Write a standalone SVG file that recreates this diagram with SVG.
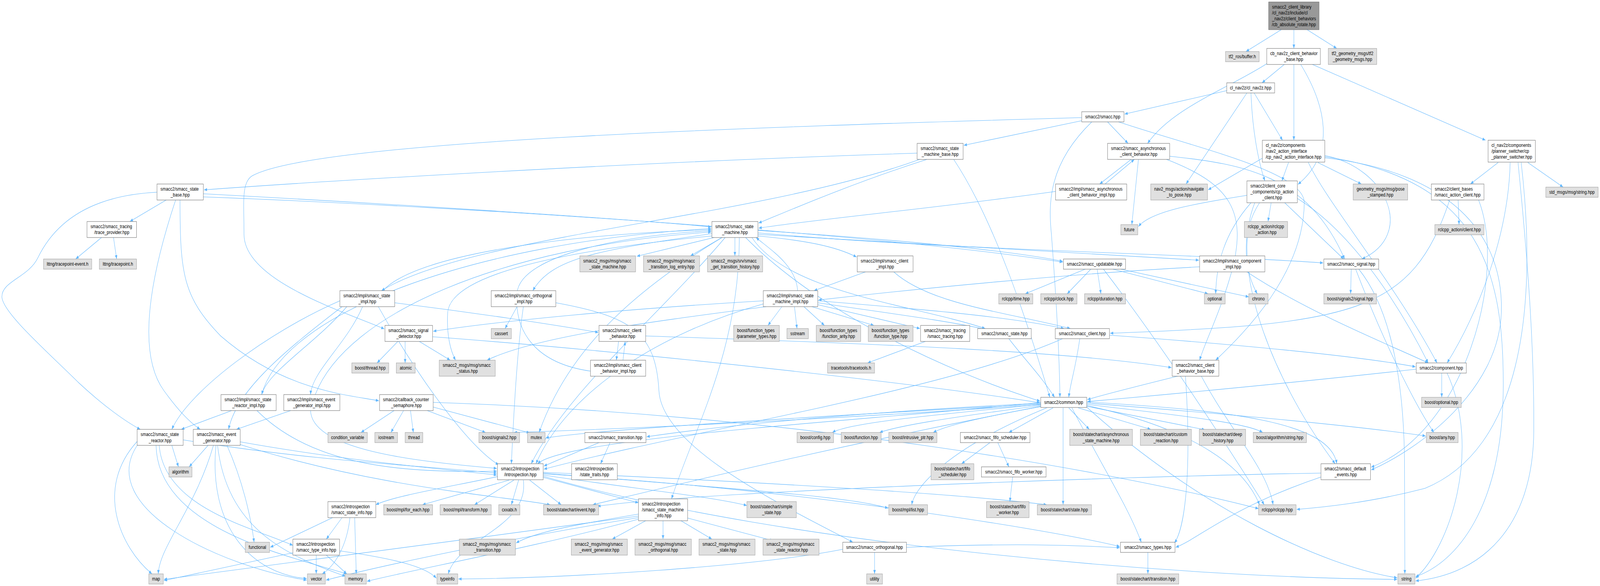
<svg xmlns="http://www.w3.org/2000/svg" width="5075" height="1500" viewBox="0 0 5075 1500" preserveAspectRatio="none" style="width:100%;height:100%">
<defs>
<style>
.nw{fill:#ffffff;stroke:#666666;stroke-width:1}
.ng{fill:#e0e0e0;stroke:#999999;stroke-width:1}
.nt{fill:#999999;stroke:#666666;stroke-width:1}
text{font-family:"Liberation Sans",Arial,Helvetica,sans-serif;font-size:13px;fill:#000000}
.c{text-anchor:middle}
#edges path{fill:none;stroke:#63b8ff;stroke-width:1.1;marker-end:url(#ah)}
</style>
<marker id="ah" markerWidth="10" markerHeight="8" refX="10" refY="4" orient="auto" markerUnits="userSpaceOnUse"><path d="M0,0 L10,4 L0,8 z" fill="#63b8ff"/></marker>
</defs>
<rect x="0" y="0" width="5075" height="1500" fill="#ffffff"/>
<g id="edges">
<path d="M4064,76 L3952,132"/>
<path d="M4104,76 L4104,124"/>
<path d="M4146,76 L4240,124"/>
<path d="M4075,164 L4003,212"/>
<path d="M4104,164 L4104,359"/>
<path d="M4125,164 C4205,270 4240,390 4117,472"/>
<path d="M4160,164 L4712,359"/>
<path d="M4020,162 C3900,225 3720,275 3640,367"/>
<path d="M3891,232 L3567,292"/>
<path d="M3978,238 L4068,359"/>
<path d="M3968,238 C3972,330 3990,410 4012,463"/>
<path d="M3955,238 L3762,471"/>
<path d="M3431,309 L3057,372"/>
<path d="M3513,312 L3578,367"/>
<path d="M3431,301 C2400,325 1000,360 800,450 C765,467 774,520 774,600 C774,720 1100,800 1219,842"/>
<path d="M3463,312 C3325,420 3325,520 3335,600 C3350,760 3360,900 3362,1017"/>
<path d="M3548,312 C3800,380 4140,440 4137,520 C4134,700 3950,850 3856,922"/>
<path d="M4004,405 L3832,486"/>
<path d="M4087,416 L4066,463"/>
<path d="M4180,416 L4318,471"/>
<path d="M4202,398 C4400,430 4490,600 4320,663"/>
<path d="M4150,416 C4210,520 4420,720 4558,929"/>
<path d="M4202,404 C4600,440 4770,600 4762,800 C4754,1000 4500,1150 4349,1203"/>
<path d="M4202,401 C4700,460 4772,700 4768,1000 C4764,1300 4620,1440 4490,1476"/>
<path d="M4752,416 L4664,471"/>
<path d="M4790,416 C4785,600 4690,800 4590,929"/>
<path d="M4846,416 L4958,479"/>
<path d="M4815,416 C4850,700 4866,900 4865,1100 C4864,1350 4700,1470 4490,1487"/>
<path d="M4825,416 C4880,800 4820,1150 4520,1250 C4330,1290 4170,1300 4113,1304"/>
<path d="M2909,392 C2000,415 1000,465 647,486"/>
<path d="M2940,408 C2700,470 2500,540 2406,571"/>
<path d="M2917,408 C2400,560 1500,600 1210,744"/>
<path d="M3025,408 C3150,560 3250,800 3330,1017"/>
<path d="M3588,408 L3488,471"/>
<path d="M3505,471 L3598,408"/>
<path d="M3611,408 L3590,575"/>
<path d="M3700,408 C3900,470 3960,540 3905,700 C3870,800 3820,880 3805,922"/>
<path d="M3710,400 C3950,420 4150,450 4265,663"/>
<path d="M3348,490 C3000,530 2600,560 2406,584"/>
<path d="M3955,500 C3800,520 3650,540 3611,580"/>
<path d="M4032,519 L4022,567"/>
<path d="M4075,519 L4262,663"/>
<path d="M4115,508 C4300,600 4450,800 4530,929"/>
<path d="M3995,519 C3930,600 3950,700 3988,752"/>
<path d="M3968,519 C3880,600 3858,680 3856,752"/>
<path d="M3980,519 C3890,700 4060,1000 4235,1187"/>
<path d="M4625,512 L4628,575"/>
<path d="M4598,512 C4480,800 4300,830 3521,853"/>
<path d="M4690,512 C4780,700 4650,1100 4349,1196"/>
<path d="M527,512 L412,567"/>
<path d="M498,492 C300,500 180,560 120,660 C90,710 5,720 6,760 C8,800 150,900 250,980 C330,1040 400,1080 445,1099"/>
<path d="M557,512 C480,700 430,900 520,1000 C565,1050 600,1080 635,1099"/>
<path d="M645,496 C1200,520 2000,560 2256,581"/>
<path d="M645,504 C1500,530 2800,600 3371,671"/>
<path d="M571,512 C571,700 580,760 700,860 C900,1000 1100,1010 1202,1026"/>
<path d="M322,608 L240,663"/>
<path d="M360,608 L370,663"/>
<path d="M2265,608 L2020,656"/>
<path d="M2290,608 L2190,655"/>
<path d="M2331,608 L2331,655"/>
<path d="M2258,598 C1900,640 1750,660 1690,744"/>
<path d="M2404,590 C2800,610 3200,640 3371,669"/>
<path d="M2404,596 C3000,640 3800,650 4197,673"/>
<path d="M2404,600 C3000,630 3500,650 3803,666"/>
<path d="M2365,608 C2600,800 3000,950 3299,1027"/>
<path d="M2300,608 C2100,800 1800,1000 1685,1187"/>
<path d="M2258,604 C1800,640 1430,700 1420,800 C1416,860 1430,900 1445,922"/>
<path d="M2290,608 C2000,750 1800,900 1710,1107"/>
<path d="M2404,604 C2550,615 2650,630 2717,658"/>
<path d="M2385,608 C2500,750 2900,780 3125,841"/>
<path d="M2345,608 C2345,900 2200,1100 2130,1277"/>
<path d="M2530,744 C2525,680 2445,640 2398,608"/>
<path d="M2421,770 C2000,790 1600,820 1374,848"/>
<path d="M2430,785 C2100,820 1700,860 1545,922"/>
<path d="M2480,785 L2436,833"/>
<path d="M2520,785 L2528,841"/>
<path d="M2550,785 L2615,833"/>
<path d="M2575,785 L2772,833"/>
<path d="M2594,780 L2918,841"/>
<path d="M2594,775 C2800,800 3000,820 3125,843"/>
<path d="M2594,770 C2900,790 3200,810 3375,841"/>
<path d="M2421,778 C2100,850 1800,1000 1700,1187"/>
<path d="M3805,683 C3400,700 2900,740 2596,768"/>
<path d="M3955,696 C4150,800 4400,880 4530,929"/>
<path d="M2745,696 L2582,744"/>
<path d="M2835,696 C2950,780 3200,800 3395,841"/>
<path d="M3442,689 L3252,752"/>
<path d="M3460,689 L3385,752"/>
<path d="M3480,689 L3492,752"/>
<path d="M3530,689 L3832,752"/>
<path d="M3555,689 L3961,760"/>
<path d="M3500,689 C3700,900 3900,1150 4010,1292"/>
<path d="M4286,689 L4284,752"/>
<path d="M4310,689 C4420,800 4455,1000 4455,1200 C4455,1350 4456,1420 4456,1469"/>
<path d="M4300,689 C4400,900 4500,1050 4548,1107"/>
<path d="M4573,955 L4573,1017"/>
<path d="M4492,945 C4100,980 3700,1010 3449,1028"/>
<path d="M4590,955 C4700,1150 4600,1400 4490,1480"/>
<path d="M3425,867 C3410,950 3395,980 3390,1017"/>
<path d="M3519,858 C3900,880 4300,910 4490,939"/>
<path d="M3370,867 C3000,1000 2200,1100 1725,1201"/>
<path d="M3200,867 C3250,920 3300,960 3345,1017"/>
<path d="M2935,874 L2752,929"/>
<path d="M3740,962 C3600,990 3500,1010 3449,1023"/>
<path d="M3810,962 C3900,1100 4020,1200 4038,1292"/>
<path d="M3760,962 C3780,1200 3760,1350 3725,1390"/>
<path d="M2048,860 C2800,880 3400,900 3716,941"/>
<path d="M1962,874 L1955,922"/>
<path d="M1976,922 L1983,874"/>
<path d="M1873,950 C1700,930 1630,850 1640,750 C1650,650 2000,600 2256,591"/>
<path d="M1640,785 L1602,841"/>
<path d="M1660,785 C1640,900 1630,1050 1622,1187"/>
<path d="M1763,775 C2000,810 2080,850 2090,1000 C2100,1150 2500,1300 2705,1388"/>
<path d="M1100,785 C1000,880 850,950 830,1010"/>
<path d="M1150,785 C1100,880 990,950 985,1010"/>
<path d="M1078,770 C850,850 600,1000 545,1099"/>
<path d="M1085,785 C900,900 750,1000 725,1099"/>
<path d="M1200,785 C1350,1000 1500,1150 1582,1190"/>
<path d="M1252,775 C1500,800 1750,830 1898,851"/>
<path d="M1215,744 C1320,650 1800,600 2256,588"/>
<path d="M830,1010 C900,800 1500,620 2256,585"/>
<path d="M1000,1010 C1100,800 1600,630 2256,594"/>
<path d="M1262,874 L1196,929"/>
<path d="M1285,874 L1285,929"/>
<path d="M1330,874 L1428,922"/>
<path d="M1372,862 C2000,900 2900,980 3299,1031"/>
<path d="M735,1051 L575,1099"/>
<path d="M815,1051 C1000,1200 1300,1210 1576,1206"/>
<path d="M922,1051 L750,1099"/>
<path d="M985,1051 C990,1150 1300,1180 1576,1199"/>
<path d="M1250,1051 L1145,1107"/>
<path d="M1280,1051 L1240,1107"/>
<path d="M1302,1051 L1311,1107"/>
<path d="M1355,1051 L1540,1107"/>
<path d="M1374,1042 L1680,1108"/>
<path d="M1374,1030 C2500,1060 3500,1200 3992,1302"/>
<path d="M545,1140 L566,1195"/>
<path d="M435,1130 C300,1250 380,1400 482,1469"/>
<path d="M437,1138 C300,1300 700,1450 973,1485"/>
<path d="M495,1140 C500,1350 900,1420 1100,1469"/>
<path d="M581,1126 C1000,1180 1300,1190 1576,1211"/>
<path d="M505,1140 C520,1300 800,1350 929,1396"/>
<path d="M660,1140 L600,1195"/>
<path d="M677,1140 C620,1300 505,1400 502,1469"/>
<path d="M720,1140 C780,1250 800,1350 806,1388"/>
<path d="M685,1140 C660,1350 800,1470 973,1481"/>
<path d="M690,1140 C720,1350 900,1420 1096,1475"/>
<path d="M762,1131 C1100,1180 1400,1200 1576,1216"/>
<path d="M762,1138 C1200,1250 1600,1270 1745,1292"/>
<path d="M1615,1229 L1340,1292"/>
<path d="M1630,1229 L1505,1292"/>
<path d="M1645,1229 L1622,1292"/>
<path d="M1680,1229 L1780,1292"/>
<path d="M1723,1222 L2025,1287"/>
<path d="M1578,1220 C1400,1250 1250,1270 1192,1292"/>
<path d="M1660,1229 C1680,1350 1450,1380 1422,1469"/>
<path d="M1723,1216 C2000,1250 2250,1270 2369,1294"/>
<path d="M1723,1213 C2500,1250 3300,1350 3552,1399"/>
<path d="M1723,1209 C2300,1230 3000,1260 3320,1292"/>
<path d="M1723,1211 C2300,1250 2700,1270 2817,1301"/>
<path d="M1723,1219 C2500,1400 3800,1480 4432,1483"/>
<path d="M1900,1133 L1725,1193"/>
<path d="M1935,1133 L1905,1187"/>
<path d="M2025,1316 C1850,1340 1700,1360 1637,1390"/>
<path d="M2050,1332 L1942,1380"/>
<path d="M2103,1332 L2103,1380"/>
<path d="M2158,1332 L2258,1380"/>
<path d="M2181,1326 L2452,1384"/>
<path d="M2025,1321 C1500,1380 800,1450 520,1483"/>
<path d="M2025,1325 C1600,1380 1200,1450 1034,1485"/>
<path d="M2025,1329 C1700,1400 1300,1460 1164,1488"/>
<path d="M1055,1325 L857,1401"/>
<path d="M1085,1325 L1035,1380"/>
<path d="M1110,1325 C1100,1400 1060,1450 1022,1469"/>
<path d="M1125,1325 L1130,1469"/>
<path d="M929,1415 L520,1486"/>
<path d="M1003,1421 L1003,1469"/>
<path d="M1035,1421 L1100,1469"/>
<path d="M1077,1410 C1250,1430 1350,1450 1384,1480"/>
<path d="M3140,1133 L3050,1187"/>
<path d="M3165,1133 L3200,1195"/>
<path d="M3212,1221 L3203,1284"/>
<path d="M3301,1035 C3000,1060 2700,1080 2640,1107"/>
<path d="M3301,1038 C3000,1070 2850,1090 2790,1107"/>
<path d="M3301,1041 C3100,1070 3000,1090 2960,1107"/>
<path d="M3340,1044 L3200,1107"/>
<path d="M3390,1044 L3455,1099"/>
<path d="M3420,1044 L3650,1099"/>
<path d="M3447,1040 L3822,1100"/>
<path d="M3447,1035 C3700,1060 3950,1080 4005,1107"/>
<path d="M3447,1032 C3900,1060 4300,1090 4522,1116"/>
<path d="M3447,1029 C3900,1050 4220,1080 4240,1187"/>
<path d="M3447,1038 C3800,1100 3950,1200 3995,1292"/>
<path d="M3372,1044 L3372,1292"/>
<path d="M3320,1044 C3000,1150 2900,1250 2892,1292"/>
<path d="M3301,1030 C2700,1080 1800,1120 1705,1187"/>
<path d="M3301,1032 C2600,1060 2200,1100 2051,1118"/>
<path d="M3301,1034 C2500,1070 1900,1100 1731,1121"/>
<path d="M3301,1036 C2500,1080 1900,1100 1630,1107"/>
<path d="M3301,1040 C2600,1150 2100,1250 1880,1292"/>
<path d="M3400,1044 C3500,1200 3580,1300 3620,1388"/>
<path d="M3447,1042 C3800,1300 4200,1450 4432,1479"/>
<path d="M4190,1211 C3500,1220 2200,1260 1895,1296"/>
<path d="M4190,1221 C3900,1300 3800,1380 3729,1401"/>
<path d="M3641,1414 L3641,1469"/>
<path d="M2774,1414 L2774,1469"/>
<path d="M2673,1406 C2400,1450 1800,1480 1454,1482"/>
<path d="M2875,1401 C3200,1390 3400,1395 3552,1402"/>
</g>
<g id="n_top"><rect class="nt" x="4024" y="5" width="160" height="71"/><text x="4035" y="22.5">smacc2_client_library</text><text x="4035" y="37.5">/cl_nav2z/include/cl</text><text x="4035" y="52.5">_nav2z/client_behaviors</text><text class="c" x="4104" y="67.5">/cb_absolute_rotate.hpp</text></g>
<g id="n_tf2_buffer"><rect class="ng" x="3887" y="132" width="107" height="26"/><text class="c" x="3940.5" y="149.5">tf2_ros/buffer.h</text></g>
<g id="n_cb_base"><rect class="nw" x="4018" y="124" width="170" height="41"/><text x="4029" y="141.5">cb_nav2z_client_behavior</text><text class="c" x="4103" y="156.5">_base.hpp</text></g>
<g id="n_tf2_geom"><rect class="ng" x="4213" y="124" width="154" height="41"/><text x="4224" y="141.5">tf2_geometry_msgs/tf2</text><text class="c" x="4290" y="156.5">_geometry_msgs.hpp</text></g>
<g id="n_cl_nav2z"><rect class="nw" x="3891" y="212" width="152" height="26"/><text class="c" x="3967" y="229.5">cl_nav2z/cl_nav2z.hpp</text></g>
<g id="n_smacc"><rect class="nw" x="3431" y="286" width="134" height="26"/><text class="c" x="3498" y="303.5">smacc2/smacc.hpp</text></g>
<g id="n_sm_base"><rect class="nw" x="2909" y="367" width="146" height="41"/><text x="2920" y="384.5">smacc2/smacc_state</text><text class="c" x="2982" y="399.5">_machine_base.hpp</text></g>
<g id="n_async_cb"><rect class="nw" x="3513" y="367" width="197" height="41"/><text x="3524" y="384.5">smacc2/smacc_asynchronous</text><text class="c" x="3611.5" y="399.5">_client_behavior.hpp</text></g>
<g id="n_cp_nav2"><rect class="nw" x="4004" y="359" width="198" height="56"/><text x="4015" y="376.5">cl_nav2z/components</text><text x="4015" y="391.5">/nav2_action_interface</text><text class="c" x="4103" y="406.5">/cp_nav2_action_interface.hpp</text></g>
<g id="n_planner"><rect class="nw" x="4720" y="359" width="150" height="56"/><text x="4731" y="376.5">cl_nav2z/components</text><text x="4731" y="391.5">/planner_switcher/cp</text><text class="c" x="4795" y="406.5">_planner_switcher.hpp</text></g>
<g id="n_state_base"><rect class="nw" x="498" y="471" width="147" height="41"/><text x="509" y="488.5">smacc2/smacc_state</text><text class="c" x="571.5" y="503.5">_base.hpp</text></g>
<g id="n_async_impl"><rect class="nw" x="3348" y="471" width="226" height="41"/><text x="3359" y="488.5">smacc2/impl/smacc_asynchronous</text><text class="c" x="3461" y="503.5">_client_behavior_impl.hpp</text></g>
<g id="n_nav2_msgs"><rect class="ng" x="3650" y="471" width="180" height="41"/><text x="3661" y="488.5">nav2_msgs/action/navigate</text><text class="c" x="3740" y="503.5">_to_pose.hpp</text></g>
<g id="n_cp_action"><rect class="nw" x="3955" y="463" width="160" height="56"/><text x="3966" y="480.5">smacc2/client_core</text><text x="3966" y="495.5">_components/cp_action</text><text class="c" x="4035" y="510.5">_client.hpp</text></g>
<g id="n_pose"><rect class="ng" x="4292" y="471" width="173" height="41"/><text x="4303" y="488.5">geometry_msgs/msg/pose</text><text class="c" x="4378.5" y="503.5">_stamped.hpp</text></g>
<g id="n_action_client"><rect class="nw" x="4540" y="471" width="167" height="41"/><text x="4551" y="488.5">smacc2/client_bases</text><text class="c" x="4623.5" y="503.5">/smacc_action_client.hpp</text></g>
<g id="n_std_string"><rect class="ng" x="4903" y="479" width="166" height="26"/><text class="c" x="4986" y="496.5">std_msgs/msg/string.hpp</text></g>
<g id="n_trace_provider"><rect class="nw" x="276" y="567" width="157" height="41"/><text x="287" y="584.5">smacc2/smacc_tracing</text><text class="c" x="354.5" y="599.5">/trace_provider.hpp</text></g>
<g id="n_state_machine"><rect class="nw" x="2258" y="567" width="146" height="41"/><text x="2269" y="584.5">smacc2/smacc_state</text><text class="c" x="2331" y="599.5">_machine.hpp</text></g>
<g id="n_future"><rect class="ng" x="3555" y="575" width="54" height="26"/><text class="c" x="3582" y="592.5">future</text></g>
<g id="n_rclcpp_action"><rect class="ng" x="3947" y="567" width="137" height="41"/><text x="3958" y="584.5">rclcpp_action/rclcpp</text><text class="c" x="4015.5" y="599.5">_action.hpp</text></g>
<g id="n_rclcpp_action_client"><rect class="ng" x="4551" y="575" width="156" height="26"/><text class="c" x="4629" y="592.5">rclcpp_action/client.hpp</text></g>
<g id="n_lttng_event"><rect class="ng" x="138" y="663" width="153" height="26"/><text class="c" x="214.5" y="680.5">lttng/tracepoint-event.h</text></g>
<g id="n_lttng"><rect class="ng" x="315" y="663" width="118" height="26"/><text class="c" x="374" y="680.5">lttng/tracepoint.h</text></g>
<g id="n_msg_sm"><rect class="ng" x="1839" y="655" width="177" height="41"/><text x="1850" y="672.5">smacc2_msgs/msg/smacc</text><text class="c" x="1927.5" y="687.5">_state_machine.hpp</text></g>
<g id="n_msg_tle"><rect class="ng" x="2041" y="655" width="178" height="41"/><text x="2052" y="672.5">smacc2_msgs/msg/smacc</text><text class="c" x="2130" y="687.5">_transition_log_entry.hpp</text></g>
<g id="n_srv_gth"><rect class="ng" x="2244" y="655" width="175" height="41"/><text x="2255" y="672.5">smacc2_msgs/srv/smacc</text><text class="c" x="2331.5" y="687.5">_get_transition_history.hpp</text></g>
<g id="n_client_impl"><rect class="nw" x="2719" y="655" width="177" height="41"/><text x="2730" y="672.5">smacc2/impl/smacc_client</text><text class="c" x="2807.5" y="687.5">_impl.hpp</text></g>
<g id="n_updatable"><rect class="nw" x="3373" y="663" width="197" height="26"/><text class="c" x="3471.5" y="680.5">smacc2/smacc_updatable.hpp</text></g>
<g id="n_component_impl"><rect class="nw" x="3805" y="655" width="207" height="41"/><text x="3816" y="672.5">smacc2/impl/smacc_component</text><text class="c" x="3908.5" y="687.5">_impl.hpp</text></g>
<g id="n_signal"><rect class="nw" x="4199" y="663" width="174" height="26"/><text class="c" x="4286" y="680.5">smacc2/smacc_signal.hpp</text></g>
<g id="n_state_impl"><rect class="nw" x="1078" y="744" width="174" height="41"/><text x="1089" y="761.5">smacc2/impl/smacc_state</text><text class="c" x="1165" y="776.5">_impl.hpp</text></g>
<g id="n_orth_impl"><rect class="nw" x="1558" y="744" width="205" height="41"/><text x="1569" y="761.5">smacc2/impl/smacc_orthogonal</text><text class="c" x="1660.5" y="776.5">_impl.hpp</text></g>
<g id="n_sm_impl"><rect class="nw" x="2421" y="744" width="173" height="41"/><text x="2432" y="761.5">smacc2/impl/smacc_state</text><text class="c" x="2507.5" y="776.5">_machine_impl.hpp</text></g>
<g id="n_time"><rect class="ng" x="3168" y="752" width="108" height="26"/><text class="c" x="3222" y="769.5">rclcpp/time.hpp</text></g>
<g id="n_clock"><rect class="ng" x="3301" y="752" width="115" height="26"/><text class="c" x="3358.5" y="769.5">rclcpp/clock.hpp</text></g>
<g id="n_duration"><rect class="ng" x="3440" y="752" width="130" height="26"/><text class="c" x="3505" y="769.5">rclcpp/duration.hpp</text></g>
<g id="n_optional"><rect class="ng" x="3820" y="752" width="66" height="26"/><text class="c" x="3853" y="769.5">optional</text></g>
<g id="n_chrono"><rect class="ng" x="3961" y="752" width="61" height="26"/><text class="c" x="3991.5" y="769.5">chrono</text></g>
<g id="n_signal2_signal"><rect class="ng" x="4199" y="752" width="167" height="26"/><text class="c" x="4282.5" y="769.5">boost/signals2/signal.hpp</text></g>
<g id="n_signal_detector"><rect class="nw" x="1221" y="833" width="151" height="41"/><text x="1232" y="850.5">smacc2/smacc_signal</text><text class="c" x="1296.5" y="865.5">_detector.hpp</text></g>
<g id="n_cassert"><rect class="ng" x="1558" y="841" width="64" height="26"/><text class="c" x="1590" y="858.5">cassert</text></g>
<g id="n_client_behavior"><rect class="nw" x="1900" y="833" width="148" height="41"/><text x="1911" y="850.5">smacc2/smacc_client</text><text class="c" x="1974" y="865.5">_behavior.hpp</text></g>
<g id="n_param_types"><rect class="ng" x="2327" y="833" width="145" height="41"/><text x="2338" y="850.5">boost/function_types</text><text class="c" x="2399.5" y="865.5">/parameter_types.hpp</text></g>
<g id="n_sstream"><rect class="ng" x="2496" y="841" width="68" height="26"/><text class="c" x="2530" y="858.5">sstream</text></g>
<g id="n_func_arity"><rect class="ng" x="2589" y="833" width="141" height="41"/><text x="2600" y="850.5">boost/function_types</text><text class="c" x="2659.5" y="865.5">/function_arity.hpp</text></g>
<g id="n_func_type"><rect class="ng" x="2754" y="833" width="142" height="41"/><text x="2765" y="850.5">boost/function_types</text><text class="c" x="2825" y="865.5">/function_type.hpp</text></g>
<g id="n_smacc_tracing"><rect class="nw" x="2920" y="833" width="156" height="41"/><text x="2931" y="850.5">smacc2/smacc_tracing</text><text class="c" x="2998" y="865.5">/smacc_tracing.hpp</text></g>
<g id="n_smacc_state"><rect class="nw" x="3101" y="841" width="170" height="26"/><text class="c" x="3186" y="858.5">smacc2/smacc_state.hpp</text></g>
<g id="n_smacc_client"><rect class="nw" x="3347" y="841" width="172" height="26"/><text class="c" x="3433" y="858.5">smacc2/smacc_client.hpp</text></g>
<g id="n_boost_thread"><rect class="ng" x="1116" y="929" width="117" height="26"/><text class="c" x="1174.5" y="946.5">boost/thread.hpp</text></g>
<g id="n_atomic"><rect class="ng" x="1257" y="929" width="60" height="26"/><text class="c" x="1287" y="946.5">atomic</text></g>
<g id="n_msg_status"><rect class="ng" x="1393" y="922" width="178" height="41"/><text x="1404" y="939.5">smacc2_msgs/msg/smacc</text><text class="c" x="1482" y="954.5">_status.hpp</text></g>
<g id="n_cb_impl"><rect class="nw" x="1873" y="922" width="175" height="41"/><text x="1884" y="939.5">smacc2/impl/smacc_client</text><text class="c" x="1960.5" y="954.5">_behavior_impl.hpp</text></g>
<g id="n_tracetools"><rect class="ng" x="2625" y="929" width="149" height="26"/><text class="c" x="2699.5" y="946.5">tracetools/tracetools.h</text></g>
<g id="n_cb_base2"><rect class="nw" x="3718" y="922" width="148" height="41"/><text x="3729" y="939.5">smacc2/smacc_client</text><text class="c" x="3792" y="954.5">_behavior_base.hpp</text></g>
<g id="n_component"><rect class="nw" x="4492" y="929" width="159" height="26"/><text class="c" x="4571.5" y="946.5">smacc2/component.hpp</text></g>
<g id="n_reactor_impl"><rect class="nw" x="701" y="1010" width="175" height="41"/><text x="712" y="1027.5">smacc2/impl/smacc_state</text><text class="c" x="788.5" y="1042.5">_reactor_impl.hpp</text></g>
<g id="n_evgen_impl"><rect class="nw" x="900" y="1010" width="178" height="41"/><text x="911" y="1027.5">smacc2/impl/smacc_event</text><text class="c" x="989" y="1042.5">_generator_impl.hpp</text></g>
<g id="n_semaphore"><rect class="nw" x="1204" y="1010" width="170" height="41"/><text x="1215" y="1027.5">smacc2/callback_counter</text><text class="c" x="1289" y="1042.5">_semaphore.hpp</text></g>
<g id="n_common"><rect class="nw" x="3301" y="1017" width="146" height="26"/><text class="c" x="3374" y="1034.5">smacc2/common.hpp</text></g>
<g id="n_boost_optional"><rect class="ng" x="4509" y="1017" width="126" height="26"/><text class="c" x="4572" y="1034.5">boost/optional.hpp</text></g>
<g id="n_cond_var"><rect class="ng" x="1040" y="1107" width="125" height="26"/><text class="c" x="1102.5" y="1124.5">condition_variable</text></g>
<g id="n_iostream"><rect class="ng" x="1189" y="1107" width="72" height="26"/><text class="c" x="1225" y="1124.5">iostream</text></g>
<g id="n_thread"><rect class="ng" x="1285" y="1107" width="56" height="26"/><text class="c" x="1313" y="1124.5">thread</text></g>
<g id="n_signals2"><rect class="ng" x="1519" y="1107" width="129" height="26"/><text class="c" x="1583.5" y="1124.5">boost/signals2.hpp</text></g>
<g id="n_mutex"><rect class="ng" x="1673" y="1107" width="56" height="26"/><text class="c" x="1701" y="1124.5">mutex</text></g>
<g id="n_transition"><rect class="nw" x="1855" y="1107" width="194" height="26"/><text class="c" x="1952" y="1124.5">smacc2/smacc_transition.hpp</text></g>
<g id="n_config"><rect class="ng" x="2528" y="1107" width="116" height="26"/><text class="c" x="2586" y="1124.5">boost/config.hpp</text></g>
<g id="n_function"><rect class="ng" x="2668" y="1107" width="127" height="26"/><text class="c" x="2731.5" y="1124.5">boost/function.hpp</text></g>
<g id="n_intrusive"><rect class="ng" x="2819" y="1107" width="153" height="26"/><text class="c" x="2895.5" y="1124.5">boost/intrusive_ptr.hpp</text></g>
<g id="n_fifo_sched"><rect class="nw" x="3046" y="1107" width="221" height="26"/><text class="c" x="3156.5" y="1124.5">smacc2/smacc_fifo_scheduler.hpp</text></g>
<g id="n_async_sm"><rect class="ng" x="3393" y="1099" width="199" height="41"/><text x="3404" y="1116.5">boost/statechart/asynchronous</text><text class="c" x="3492.5" y="1131.5">_state_machine.hpp</text></g>
<g id="n_custom_reaction"><rect class="ng" x="3617" y="1099" width="162" height="41"/><text x="3628" y="1116.5">boost/statechart/custom</text><text class="c" x="3698" y="1131.5">_reaction.hpp</text></g>
<g id="n_deep_history"><rect class="ng" x="3804" y="1099" width="147" height="41"/><text x="3815" y="1116.5">boost/statechart/deep</text><text class="c" x="3877.5" y="1131.5">_history.hpp</text></g>
<g id="n_algo_string"><rect class="ng" x="3975" y="1107" width="169" height="26"/><text class="c" x="4059.5" y="1124.5">boost/algorithm/string.hpp</text></g>
<g id="n_any"><rect class="ng" x="4524" y="1107" width="101" height="26"/><text class="c" x="4574.5" y="1124.5">boost/any.hpp</text></g>
<g id="n_state_reactor"><rect class="nw" x="435" y="1099" width="146" height="41"/><text x="446" y="1116.5">smacc2/smacc_state</text><text class="c" x="508" y="1131.5">_reactor.hpp</text></g>
<g id="n_event_generator"><rect class="nw" x="613" y="1099" width="149" height="41"/><text x="624" y="1116.5">smacc2/smacc_event</text><text class="c" x="687.5" y="1131.5">_generator.hpp</text></g>
<g id="n_algorithm"><rect class="ng" x="536" y="1195" width="73" height="26"/><text class="c" x="572.5" y="1212.5">algorithm</text></g>
<g id="n_introspection"><rect class="nw" x="1578" y="1187" width="145" height="41"/><text x="1589" y="1204.5">smacc2/introspection</text><text class="c" x="1650.5" y="1219.5">/introspection.hpp</text></g>
<g id="n_state_traits"><rect class="nw" x="1813" y="1187" width="145" height="41"/><text x="1824" y="1204.5">smacc2/introspection</text><text class="c" x="1885.5" y="1219.5">/state_traits.hpp</text></g>
<g id="n_sc_fifo_sched"><rect class="ng" x="2953" y="1187" width="136" height="41"/><text x="2964" y="1204.5">boost/statechart/fifo</text><text class="c" x="3021" y="1219.5">_scheduler.hpp</text></g>
<g id="n_fifo_worker"><rect class="nw" x="3113" y="1195" width="205" height="26"/><text class="c" x="3215.5" y="1212.5">smacc2/smacc_fifo_worker.hpp</text></g>
<g id="n_default_events"><rect class="nw" x="4190" y="1187" width="157" height="41"/><text x="4201" y="1204.5">smacc2/smacc_default</text><text class="c" x="4268.5" y="1219.5">_events.hpp</text></g>
<g id="n_state_info"><rect class="nw" x="1040" y="1284" width="152" height="41"/><text x="1051" y="1301.5">smacc2/introspection</text><text class="c" x="1116" y="1316.5">/smacc_state_info.hpp</text></g>
<g id="n_for_each"><rect class="ng" x="1217" y="1292" width="155" height="26"/><text class="c" x="1294.5" y="1309.5">boost/mpl/for_each.hpp</text></g>
<g id="n_mpl_transform"><rect class="ng" x="1396" y="1292" width="162" height="26"/><text class="c" x="1477" y="1309.5">boost/mpl/transform.hpp</text></g>
<g id="n_cxxabi"><rect class="ng" x="1582" y="1292" width="67" height="26"/><text class="c" x="1615.5" y="1309.5">cxxabi.h</text></g>
<g id="n_sc_event"><rect class="ng" x="1724" y="1292" width="175" height="26"/><text class="c" x="1811.5" y="1309.5">boost/statechart/event.hpp</text></g>
<g id="n_sm_info"><rect class="nw" x="2025" y="1277" width="156" height="56"/><text x="2036" y="1294.5">smacc2/introspection</text><text x="2036" y="1309.5">/smacc_state_machine</text><text class="c" x="2103" y="1324.5">_info.hpp</text></g>
<g id="n_simple_state"><rect class="ng" x="2369" y="1284" width="157" height="41"/><text x="2380" y="1301.5">boost/statechart/simple</text><text class="c" x="2447.5" y="1316.5">_state.hpp</text></g>
<g id="n_mpl_list"><rect class="ng" x="2819" y="1292" width="123" height="26"/><text class="c" x="2880.5" y="1309.5">boost/mpl/list.hpp</text></g>
<g id="n_sc_fifo_worker"><rect class="ng" x="3129" y="1284" width="135" height="41"/><text x="3140" y="1301.5">boost/statechart/fifo</text><text class="c" x="3196.5" y="1316.5">_worker.hpp</text></g>
<g id="n_sc_state"><rect class="ng" x="3290" y="1292" width="172" height="26"/><text class="c" x="3376" y="1309.5">boost/statechart/state.hpp</text></g>
<g id="n_rclcpp"><rect class="ng" x="3992" y="1292" width="119" height="26"/><text class="c" x="4051.5" y="1309.5">rclcpp/rclcpp.hpp</text></g>
<g id="n_type_info"><rect class="nw" x="929" y="1380" width="148" height="41"/><text x="940" y="1397.5">smacc2/introspection</text><text class="c" x="1003" y="1412.5">/smacc_type_info.hpp</text></g>
<g id="n_functional"><rect class="ng" x="778" y="1388" width="77" height="26"/><text class="c" x="816.5" y="1405.5">functional</text></g>
<g id="n_msg_transition"><rect class="ng" x="1457" y="1380" width="178" height="41"/><text x="1468" y="1397.5">smacc2_msgs/msg/smacc</text><text class="c" x="1546" y="1412.5">_transition.hpp</text></g>
<g id="n_msg_evgen"><rect class="ng" x="1812" y="1380" width="178" height="41"/><text x="1823" y="1397.5">smacc2_msgs/msg/smacc</text><text class="c" x="1901" y="1412.5">_event_generator.hpp</text></g>
<g id="n_msg_orth"><rect class="ng" x="2014" y="1380" width="179" height="41"/><text x="2025" y="1397.5">smacc2_msgs/msg/smacc</text><text class="c" x="2103.5" y="1412.5">_orthogonal.hpp</text></g>
<g id="n_msg_state"><rect class="ng" x="2217" y="1380" width="178" height="41"/><text x="2228" y="1397.5">smacc2_msgs/msg/smacc</text><text class="c" x="2306" y="1412.5">_state.hpp</text></g>
<g id="n_msg_reactor"><rect class="ng" x="2420" y="1380" width="178" height="41"/><text x="2431" y="1397.5">smacc2_msgs/msg/smacc</text><text class="c" x="2509" y="1412.5">_state_reactor.hpp</text></g>
<g id="n_orthogonal"><rect class="nw" x="2673" y="1388" width="202" height="26"/><text class="c" x="2774" y="1405.5">smacc2/smacc_orthogonal.hpp</text></g>
<g id="n_types"><rect class="nw" x="3554" y="1388" width="173" height="26"/><text class="c" x="3640.5" y="1405.5">smacc2/smacc_types.hpp</text></g>
<g id="n_map"><rect class="ng" x="472" y="1469" width="46" height="26"/><text class="c" x="495" y="1486.5">map</text></g>
<g id="n_vector"><rect class="ng" x="975" y="1469" width="57" height="26"/><text class="c" x="1003.5" y="1486.5">vector</text></g>
<g id="n_memory"><rect class="ng" x="1094" y="1469" width="68" height="26"/><text class="c" x="1128" y="1486.5">memory</text></g>
<g id="n_typeinfo"><rect class="ng" x="1386" y="1469" width="66" height="26"/><text class="c" x="1419" y="1486.5">typeinfo</text></g>
<g id="n_utility"><rect class="ng" x="2749" y="1469" width="50" height="26"/><text class="c" x="2774" y="1486.5">utility</text></g>
<g id="n_sc_transition"><rect class="ng" x="3543" y="1469" width="196" height="26"/><text class="c" x="3641" y="1486.5">boost/statechart/transition.hpp</text></g>
<g id="n_string"><rect class="ng" x="4434" y="1469" width="54" height="26"/><text class="c" x="4461" y="1486.5">string</text></g>
</svg>
